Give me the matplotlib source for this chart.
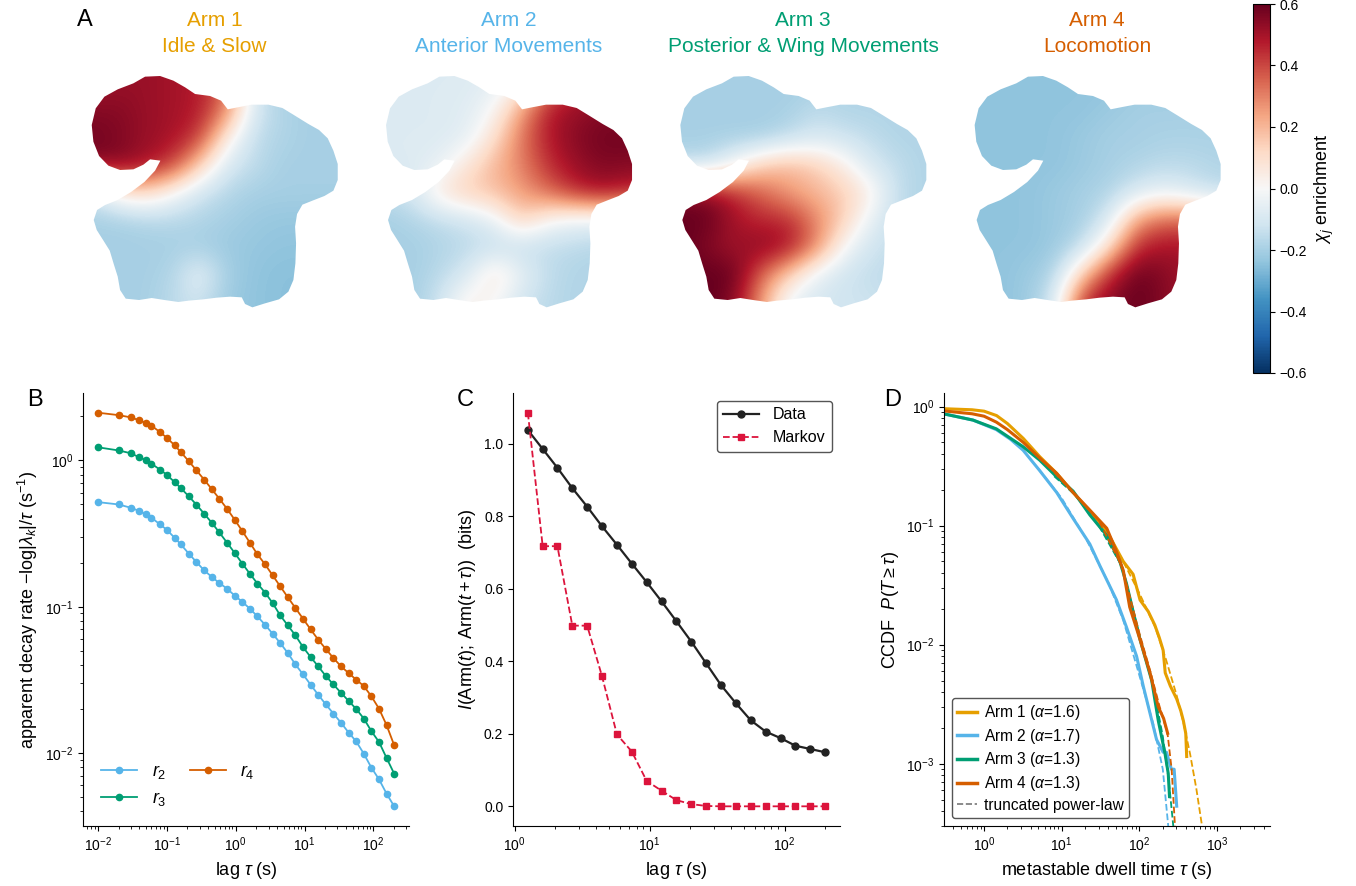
import numpy as np
import matplotlib
matplotlib.use("Agg")
import matplotlib.pyplot as plt
from matplotlib.patches import Polygon
from matplotlib.lines import Line2D

plt.rcParams['font.family'] = ['Liberation Sans', 'DejaVu Sans']
plt.rcParams['mathtext.fontset'] = 'custom'
plt.rcParams['mathtext.rm'] = 'Liberation Sans'
plt.rcParams['mathtext.sf'] = 'Liberation Sans'
plt.rcParams['mathtext.it'] = 'Liberation Sans:italic'
plt.rcParams['mathtext.bf'] = 'Liberation Sans:bold'
plt.rcParams['axes.unicode_minus'] = True

# ---------------- colours ----------------
C_ARM1 = '#E69F00'
C_ARM2 = '#56B4E9'
C_ARM3 = '#009E73'
C_ARM4 = '#D55E00'

# ---------------- Panel A : enrichment maps ----------------
arm_titles = ['Arm 1\nIdle & Slow', 'Arm 2\nAnterior Movements',
              'Arm 3\nPosterior & Wing Movements', 'Arm 4\nLocomotion']
arm_colors = [C_ARM1, C_ARM2, C_ARM3, C_ARM4]

# embedding outline (image units)
outline_x = [230, 246, 215, 195, 165, 125, 90, 62, 45, 40, 52, 78, 118, 165, 200, 245, 285, 320, 350, 395,
             428, 448, 478, 520, 570, 612, 648, 690, 722, 748, 765, 778, 778, 765, 738, 702, 672, 656, 650,
             653, 651, 645, 630, 602, 560, 522, 500, 490, 455, 415, 375, 330, 300, 258, 220, 182, 142, 125,
             118, 106, 94, 74, 55, 46, 56, 80, 118, 158, 198]
outline_y = [302, 272, 268, 284, 298, 300, 287, 258, 215, 165, 115, 80, 58, 40, 20, 18, 32, 52, 72, 78,
             92, 118, 112, 104, 104, 114, 136, 162, 180, 205, 242, 282, 330, 362, 378, 392, 404, 432, 470,
             520, 580, 630, 665, 688, 700, 712, 702, 682, 680, 683, 688, 692, 696, 690, 684, 690, 686, 660,
             620, 582, 542, 510, 480, 450, 420, 405, 390, 366, 336]

# coarse enrichment grids (9 rows x 10 cols over the embedding box)
chi_arm1 = [
    [0.50, 0.52, 0.52, 0.50, 0.48, 0.35, -0.10, -0.20, -0.20, -0.20],
    [0.55, 0.55, 0.52, 0.50, 0.48, 0.30, -0.10, -0.18, -0.20, -0.20],
    [0.58, 0.56, 0.52, 0.50, 0.42, 0.05, -0.15, -0.18, -0.20, -0.20],
    [0.55, 0.55, 0.50, 0.42, 0.15, -0.10, -0.15, -0.20, -0.20, -0.20],
    [-0.12, 0.05, 0.12, 0.00, -0.12, -0.17, -0.20, -0.20, -0.20, -0.20],
    [-0.20, -0.20, -0.18, -0.17, -0.18, -0.20, -0.22, -0.23, -0.23, -0.23],
    [-0.20, -0.20, -0.20, -0.20, -0.20, -0.22, -0.23, -0.24, -0.24, -0.24],
    [-0.20, -0.20, -0.20, -0.18, -0.05, -0.20, -0.24, -0.25, -0.25, -0.25],
    [-0.20, -0.20, -0.20, -0.16, -0.12, -0.22, -0.24, -0.25, -0.25, -0.25],
]
chi_arm2 = [
    [-0.08, -0.08, -0.08, -0.08, -0.06, 0.00, 0.30, 0.45, 0.50, 0.50],
    [-0.08, -0.08, -0.08, -0.07, 0.00, 0.25, 0.48, 0.52, 0.55, 0.55],
    [-0.08, -0.08, -0.08, -0.06, 0.10, 0.32, 0.48, 0.55, 0.58, 0.58],
    [-0.08, -0.08, -0.05, 0.08, 0.20, 0.30, 0.44, 0.52, 0.56, 0.55],
    [-0.15, -0.10, 0.08, 0.15, 0.18, 0.25, 0.34, 0.45, 0.50, 0.45],
    [-0.20, -0.18, -0.15, -0.12, -0.05, 0.15, 0.00, -0.05, -0.05, -0.05],
    [-0.20, -0.20, -0.18, -0.16, -0.15, -0.15, -0.15, -0.16, -0.18, -0.18],
    [-0.20, -0.20, -0.16, -0.10, 0.10, -0.05, -0.15, -0.18, -0.18, -0.18],
    [-0.20, -0.20, -0.12, 0.05, 0.00, -0.12, -0.16, -0.18, -0.18, -0.18],
]
chi_arm3 = [
    [-0.20, -0.20, -0.20, -0.20, -0.20, -0.20, -0.18, -0.18, -0.18, -0.18],
    [-0.20, -0.20, -0.20, -0.20, -0.20, -0.15, -0.18, -0.18, -0.18, -0.18],
    [-0.20, -0.20, -0.20, -0.20, -0.15, -0.10, -0.12, -0.15, -0.18, -0.18],
    [-0.15, -0.15, 0.00, 0.15, 0.20, 0.15, 0.05, -0.10, -0.15, -0.18],
    [0.55, 0.55, 0.45, 0.35, 0.25, 0.20, 0.15, 0.05, -0.15, -0.18],
    [0.60, 0.60, 0.50, 0.45, 0.45, 0.30, 0.15, -0.05, -0.15, -0.18],
    [0.60, 0.55, 0.50, 0.55, 0.50, 0.30, 0.00, -0.12, -0.15, -0.15],
    [0.60, 0.60, 0.60, 0.35, 0.15, -0.05, -0.12, -0.15, -0.15, -0.15],
    [0.60, 0.60, 0.55, 0.25, -0.05, -0.10, -0.12, -0.12, -0.15, -0.15],
]
chi_arm4 = [
    [-0.24, -0.24, -0.24, -0.24, -0.24, -0.24, -0.22, -0.22, -0.22, -0.22],
    [-0.24, -0.24, -0.24, -0.24, -0.24, -0.22, -0.20, -0.20, -0.20, -0.20],
    [-0.24, -0.24, -0.24, -0.24, -0.22, -0.20, -0.20, -0.19, -0.19, -0.19],
    [-0.24, -0.24, -0.24, -0.24, -0.22, -0.20, -0.18, -0.16, -0.16, -0.18],
    [-0.24, -0.24, -0.24, -0.22, -0.20, -0.18, -0.10, -0.05, -0.10, -0.15],
    [-0.24, -0.24, -0.24, -0.22, -0.20, -0.10, 0.25, 0.35, 0.35, 0.30],
    [-0.24, -0.24, -0.24, -0.22, -0.15, 0.10, 0.45, 0.50, 0.50, 0.45],
    [-0.24, -0.24, -0.22, -0.18, 0.15, 0.45, 0.60, 0.55, 0.50, 0.50],
    [-0.24, -0.24, -0.22, -0.10, 0.45, 0.55, 0.60, 0.55, 0.50, 0.50],
]
chi_grids = [chi_arm1, chi_arm2, chi_arm3, chi_arm4]
cbar_ticks = [-0.6, -0.4, -0.2, 0.0, 0.2, 0.4, 0.6]

# ---------------- Panel B : decay rates ----------------
lag_B = [0.01, 0.02, 0.03, 0.04, 0.05, 0.06, 0.08, 0.10, 0.13, 0.16, 0.21, 0.27, 0.35, 0.45, 0.58,
         0.75, 0.97, 1.25, 1.61, 2.07, 2.67, 3.44, 4.43, 5.72, 7.37, 9.50, 12.25, 15.79, 20.35,
         26.23, 33.82, 43.59, 56.19, 72.44, 93.38, 120.37, 155.16, 200.0]
r2 = [0.519, 0.500, 0.475, 0.451, 0.428, 0.406, 0.365, 0.336, 0.296, 0.267, 0.230, 0.202, 0.177,
      0.160, 0.145, 0.133, 0.119, 0.108, 0.0969, 0.0859, 0.0753, 0.0654, 0.0565, 0.0482, 0.0403,
      0.0345, 0.0293, 0.0250, 0.0215, 0.0186, 0.0161, 0.0138, 0.0120, 0.00989, 0.00794, 0.00661,
      0.00527, 0.00432]
r3 = [1.23, 1.17, 1.12, 1.05, 1.005, 0.95, 0.864, 0.798, 0.711, 0.647, 0.567, 0.498, 0.432, 0.375,
      0.322, 0.274, 0.233, 0.197, 0.168, 0.144, 0.125, 0.106, 0.0873, 0.0745, 0.0637, 0.053, 0.0453,
      0.0391, 0.0336, 0.0294, 0.0258, 0.0227, 0.0200, 0.0172, 0.0141, 0.0119, 0.00924, 0.00722]
r4 = [2.12, 2.04, 1.97, 1.88, 1.80, 1.73, 1.56, 1.43, 1.27, 1.14, 0.985, 0.855, 0.738, 0.637, 0.547,
      0.467, 0.393, 0.329, 0.274, 0.228, 0.195, 0.164, 0.138, 0.116, 0.098, 0.0828, 0.070, 0.0595,
      0.0514, 0.0446, 0.0391, 0.0352, 0.0317, 0.0287, 0.0244, 0.0201, 0.0155, 0.0113]

# ---------------- Panel C : mutual information ----------------
lag_C = [1.25, 1.61, 2.07, 2.67, 3.44, 4.43, 5.72, 7.37, 9.50, 12.25, 15.79, 20.35, 26.23, 33.82,
         43.59, 56.19, 72.44, 93.38, 120.37, 155.16, 200.0]
mi_data = [1.037, 0.985, 0.933, 0.877, 0.826, 0.772, 0.721, 0.669, 0.618, 0.565, 0.510, 0.454, 0.394,
           0.334, 0.284, 0.237, 0.206, 0.188, 0.167, 0.158, 0.149]
mi_markov = [1.085, 0.717, 0.717, 0.498, 0.498, 0.359, 0.198, 0.151, 0.070, 0.043, 0.017, 0.006, 0.001,
             0.0, 0.0, 0.0, 0.0, 0.0, 0.0, 0.0, 0.0]

# ---------------- Panel D : dwell time CCDFs ----------------
tau_a1 = [0.3, 0.7, 1.0, 1.45, 2.0, 3.2, 5.2, 8.6, 14, 23, 38, 62, 83, 102, 130, 158, 180, 202, 215,
          250, 302, 340, 368, 395, 406]
ccdf_a1 = [0.96, 0.94, 0.915, 0.84, 0.72, 0.54, 0.38, 0.275, 0.19, 0.132, 0.09, 0.05, 0.039, 0.0237,
           0.019, 0.0146, 0.0115, 0.009, 0.0058, 0.0045, 0.0035, 0.0028, 0.0023, 0.0018, 0.00115]
tau_a2 = [0.3, 0.72, 1.44, 2.2, 3.18, 5.2, 8.6, 14, 23, 31, 50.6, 68, 92, 112, 136, 166, 202, 223,
          258, 280, 302]
ccdf_a2 = [0.87, 0.77, 0.64, 0.53, 0.43, 0.29, 0.19, 0.115, 0.07, 0.046, 0.0238, 0.0141, 0.0080,
           0.0045, 0.0027, 0.0016, 0.00125, 0.00125, 0.0009, 0.0009, 0.00044]
tau_a3 = [0.3, 0.72, 1.44, 3.18, 5.2, 8.6, 14, 23, 37.8, 56, 68, 84, 102, 144, 175, 213, 235, 244]
ccdf_a3 = [0.87, 0.77, 0.65, 0.46, 0.355, 0.257, 0.195, 0.123, 0.083, 0.05, 0.0328, 0.0184, 0.011,
           0.005, 0.0023, 0.00123, 0.00083, 0.00053]
tau_a4 = [0.3, 0.7, 1.0, 1.44, 2.0, 3.2, 5.2, 8.6, 14, 23, 38, 50, 62, 75, 102, 137, 175, 205, 231]
ccdf_a4 = [0.92, 0.87, 0.83, 0.74, 0.64, 0.50, 0.37, 0.275, 0.19, 0.135, 0.095, 0.062, 0.042, 0.0207,
           0.011, 0.0058, 0.003, 0.0024, 0.0018]

fit_tau_a1 = [8, 15, 30, 60, 100, 160, 220, 300, 370, 450, 540, 640]
fit_a1 = [0.29, 0.18, 0.105, 0.052, 0.027, 0.014, 0.0075, 0.0038, 0.0022, 0.0012, 0.00062, 0.0003]
fit_tau_a2 = [5, 10, 20, 40, 62, 100, 150, 200, 235]
fit_a2 = [0.30, 0.17, 0.08, 0.033, 0.016, 0.0055, 0.0022, 0.0009, 0.0003]
fit_tau_a3 = [8, 15, 30, 60, 100, 150, 200, 240, 273]
fit_a3 = [0.26, 0.18, 0.10, 0.045, 0.012, 0.0045, 0.0017, 0.0007, 0.0003]
fit_tau_a4 = [8, 15, 30, 60, 100, 140, 180, 230, 260, 287]
fit_a4 = [0.28, 0.18, 0.11, 0.045, 0.0125, 0.0058, 0.0031, 0.0018, 0.0009, 0.0003]
alphas = [1.6, 1.7, 1.3, 1.3]

# ================= figure =================
W, H = 1356, 886
fig = plt.figure(figsize=(W / 100, H / 100), dpi=100)


def box(l, t, w, h):
    return [l / W, 1 - (t + h) / H, w / W, h / H]


TICK_FS = 10
LAB_FS = 13

# ---- maps ----
im = None
for k in range(4):
    x0 = 78.4 + 294.3 * k
    ax = fig.add_axes(box(x0, 70, 270, 245))
    ax.set_xlim(0, 810)
    ax.set_ylim(735, 0)
    ax.axis('off')
    im = ax.imshow(np.array(chi_grids[k]), cmap='RdBu_r', vmin=-0.6, vmax=0.6,
                   extent=(0, 810, 735, 0), interpolation='bicubic', aspect='auto')
    poly = Polygon(np.column_stack([outline_x, outline_y]), closed=True,
                   fc='none', ec='none', transform=ax.transData)
    ax.add_patch(poly)
    im.set_clip_path(poly)
    fig.text((x0 + 136) / W, 1 - 11 / H, arm_titles[k], ha='center', va='top',
             color=arm_colors[k], fontsize=15, linespacing=1.45)

cax = fig.add_axes(box(1253, 4, 17, 369))
cb = fig.colorbar(im, cax=cax, ticks=cbar_ticks)
cb.ax.tick_params(labelsize=TICK_FS)
cb.set_label(r'$\chi_j$ enrichment', fontsize=LAB_FS)

# ---- panel B ----
axB = fig.add_axes(box(83, 393, 326, 433))
axB.plot(lag_B, r2, '-o', color=C_ARM2, ms=4.5, lw=1.3, label=r'$r_2$')
axB.plot(lag_B, r3, '-o', color=C_ARM3, ms=4.5, lw=1.3, label=r'$r_3$')
axB.plot(lag_B, r4, '-o', color=C_ARM4, ms=4.5, lw=1.3, label=r'$r_4$')
axB.set_xscale('log')
axB.set_yscale('log')
axB.set_xlabel(r'lag $\tau$ (s)', fontsize=LAB_FS)
axB.set_ylabel(r'apparent decay rate $-\log|\lambda_k|/\tau$ (s$^{-1}$)', fontsize=LAB_FS)
axB.legend(loc='lower left', ncol=2, frameon=False, fontsize=13, handlelength=2.0,
           columnspacing=1.3, borderaxespad=0.6)

# ---- panel C ----
axC = fig.add_axes(box(513, 393, 327, 433))
axC.plot(lag_C, mi_data, '-o', color='#222222', ms=5, lw=1.6, label='Data')
axC.plot(lag_C, mi_markov, '--s', color='#DC143C', ms=4, lw=1.3, label='Markov')
axC.set_xscale('log')
axC.set_xlabel(r'lag $\tau$ (s)', fontsize=LAB_FS)
axC.set_ylabel(r'$I(\mathrm{Arm}(t);\,\mathrm{Arm}(t+\tau))$  (bits)', fontsize=LAB_FS)
axC.set_yticks([0.0, 0.2, 0.4, 0.6, 0.8, 1.0])
axC.legend(loc='upper right', fontsize=11.5, fancybox=True, edgecolor='#555555',
           framealpha=1, handlelength=2.2, handletextpad=0.9)

# ---- panel D ----
axD = fig.add_axes(box(944, 393, 326, 433))
taus = [tau_a1, tau_a2, tau_a3, tau_a4]
ccdfs = [ccdf_a1, ccdf_a2, ccdf_a3, ccdf_a4]
fit_taus = [fit_tau_a1, fit_tau_a2, fit_tau_a3, fit_tau_a4]
fits = [fit_a1, fit_a2, fit_a3, fit_a4]
handles = []
for k in range(4):
    axD.plot(taus[k], ccdfs[k], '-', color=arm_colors[k], lw=2.2)
    axD.plot(fit_taus[k], fits[k], '--', color=arm_colors[k], lw=1.3)
    handles.append(Line2D([], [], color=arm_colors[k], lw=2.5,
                          label=r'Arm %d ($\alpha$=%.1f)' % (k + 1, alphas[k])))
handles.append(Line2D([], [], color='#777777', lw=1.2, ls='--', label='truncated power-law'))
axD.set_xscale('log')
axD.set_yscale('log')
axD.set_xlim(0.305, 4800)
axD.set_ylim(3.0e-4, 1.3)
axD.set_xlabel(r'metastable dwell time $\tau$ (s)', fontsize=LAB_FS)
axD.set_ylabel(r'CCDF  $P(T \geq \tau)$', fontsize=LAB_FS)
axD.legend(handles=handles, loc='lower left', fontsize=11.2, fancybox=True, edgecolor='#555555',
           framealpha=1, handlelength=1.3, handletextpad=0.4, borderaxespad=0.5,
           labelspacing=0.3, borderpad=0.35)

for ax in (axB, axC, axD):
    ax.spines['top'].set_visible(False)
    ax.spines['right'].set_visible(False)
    ax.tick_params(labelsize=TICK_FS)

# panel letters
for lab, x, y in [('A', 85, 20), ('B', 35, 400), ('C', 465, 400), ('D', 893, 400)]:
    fig.text(x / W, 1 - y / H, lab, ha='center', va='center', fontsize=17)

fig.savefig('out.png', dpi=100)
